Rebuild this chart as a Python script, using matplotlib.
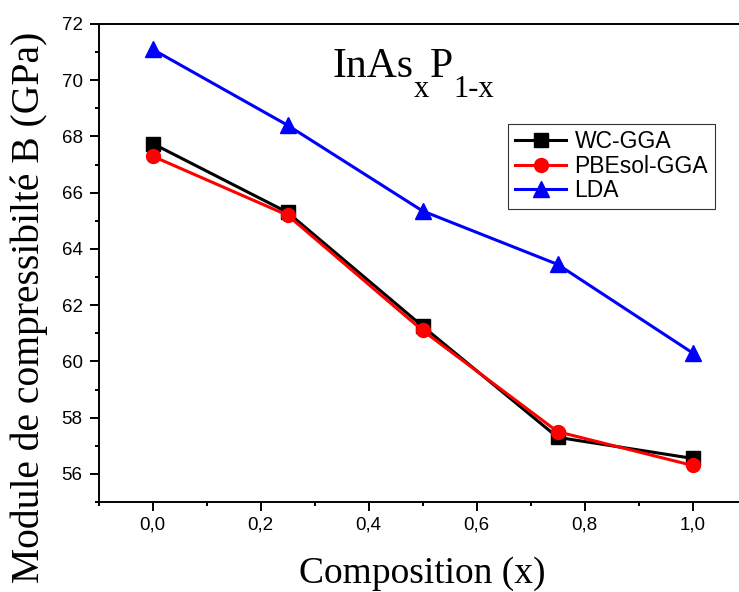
import matplotlib
matplotlib.use("Agg")
import matplotlib.pyplot as plt
from matplotlib.ticker import MultipleLocator, FuncFormatter

# data
composition = [0.0, 0.25, 0.5, 0.75, 1.0]
wc_gga = [67.75, 65.3, 61.25, 57.3, 56.55]
pbesol_gga = [67.3, 65.2, 61.1, 57.5, 56.3]
lda = [71.1, 68.4, 65.35, 63.45, 60.3]

SERIF = "Liberation Serif"
SANS = "Liberation Sans"

W, H = 739, 592
fig = plt.figure(figsize=(W / 100, H / 100), dpi=100)
left, right, top, bottom = 98.5, 746.7, 24, 502
ax = fig.add_axes([left / W, 1 - bottom / H, (right - left) / W, (bottom - top) / H])

ax.plot(composition, wc_gga, "-s", color="black", lw=2.2, ms=9.5, label="WC-GGA")
ax.plot(composition, pbesol_gga, "-o", color="red", lw=2.2, ms=10, label="PBEsol-GGA")
ax.plot(composition, lda, "-^", color="blue", lw=2.2, ms=11, label="LDA")

ax.set_xlim(-0.1, 1.1)
ax.set_ylim(55, 72)
ax.xaxis.set_major_locator(MultipleLocator(0.2))
ax.xaxis.set_minor_locator(MultipleLocator(0.1))
ax.yaxis.set_major_locator(MultipleLocator(2))
ax.yaxis.set_minor_locator(MultipleLocator(1))
ax.xaxis.set_major_formatter(FuncFormatter(lambda v, p: f"{v:.1f}".replace(".", ",")))
ax.yaxis.set_major_formatter(FuncFormatter(lambda v, p: f"{v:.0f}"))

for s in ax.spines.values():
    s.set_linewidth(1.4)
ax.spines["right"].set_visible(False)
ax.tick_params(which="major", direction="out", length=6.5, width=1.4, labelsize=13.5, pad=4)
ax.tick_params(axis="y", which="major", pad=5)
ax.tick_params(which="minor", direction="out", length=2.8, width=1.4)
for lab in ax.get_xticklabels() + ax.get_yticklabels():
    lab.set_family(SANS)

# axis titles
fig.text((left + 746.7) / 2 / W, 1 - 583 / H, "Composition (x)", family=SERIF, fontsize=27,
         ha="center", va="baseline")
fig.text(29 / W, 1 - 307 / H, "Module de compressibilté B (GPa)", family=SERIF, fontsize=28.5,
         rotation=90, ha="center", va="center")

# compound label with subscripts, pieces placed one after another
renderer = fig.canvas.get_renderer()
x_px = 332.7
for txt, base, size in [("InAs", 77.3, 30), ("x", 97, 22), ("P", 77.3, 30), ("1-x", 97, 22)]:
    t = fig.text(x_px / W, 1 - base / H, txt, family=SERIF, fontsize=size, ha="left", va="baseline")
    x_px = t.get_window_extent(renderer).x1 + 0.5

leg = ax.legend(loc="upper left", bbox_to_anchor=(508 / W, 1 - 123.5 / H), bbox_transform=fig.transFigure,
                prop={"family": SANS, "size": 16.5}, frameon=True, fancybox=False, borderaxespad=0,
                edgecolor="black", handlelength=2.25, borderpad=0.3, labelspacing=0.06,
                handletextpad=0.35)
leg.get_frame().set_linewidth(0.8)

fig.savefig("out.png", dpi=100)
